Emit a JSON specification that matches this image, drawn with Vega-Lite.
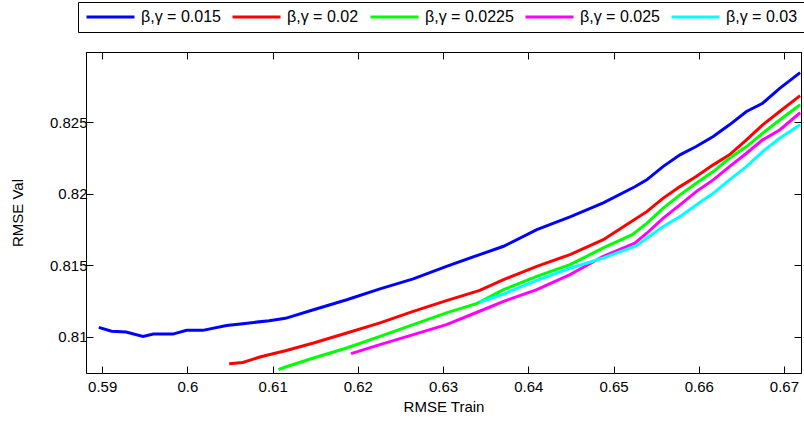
{
  "$schema": "https://vega.github.io/schema/vega-lite/v6.json",
  "width": 715,
  "height": 321,
  "autosize": {"type": "none"},
  "padding": {"left": 86, "top": 52, "right": 3, "bottom": 50},
  "config": {
    "view": {"stroke": "black", "strokeWidth": 1},
    "font": "Liberation Sans",
    "axis": {"grid": false, "domainColor": "black", "tickColor": "black", "labelColor": "black", "titleColor": "black", "labelFont": "Liberation Sans", "titleFont": "Liberation Sans", "titleFontWeight": "normal", "labelFontSize": 15, "titleFontSize": 15},
    "legend": {"labelFont": "Liberation Sans"}
  },
  "data": {"values": [
    {"s": "β,γ = 0.015", "x": 0.5896, "y": 0.81067},
    {"s": "β,γ = 0.015", "x": 0.5911, "y": 0.8104},
    {"s": "β,γ = 0.015", "x": 0.5928, "y": 0.81035},
    {"s": "β,γ = 0.015", "x": 0.5948, "y": 0.81004},
    {"s": "β,γ = 0.015", "x": 0.596, "y": 0.8102},
    {"s": "β,γ = 0.015", "x": 0.5983, "y": 0.8102},
    {"s": "β,γ = 0.015", "x": 0.5999, "y": 0.81046},
    {"s": "β,γ = 0.015", "x": 0.6018, "y": 0.81046},
    {"s": "β,γ = 0.015", "x": 0.6046, "y": 0.8108},
    {"s": "β,γ = 0.015", "x": 0.6065, "y": 0.81093},
    {"s": "β,γ = 0.015", "x": 0.6096, "y": 0.81114},
    {"s": "β,γ = 0.015", "x": 0.6115, "y": 0.8113},
    {"s": "β,γ = 0.015", "x": 0.6148, "y": 0.8119},
    {"s": "β,γ = 0.015", "x": 0.6187, "y": 0.8126},
    {"s": "β,γ = 0.015", "x": 0.6226, "y": 0.81336},
    {"s": "β,γ = 0.015", "x": 0.6265, "y": 0.81406},
    {"s": "β,γ = 0.015", "x": 0.6304, "y": 0.81494},
    {"s": "β,γ = 0.015", "x": 0.6343, "y": 0.81576},
    {"s": "β,γ = 0.015", "x": 0.6371, "y": 0.81634},
    {"s": "β,γ = 0.015", "x": 0.641, "y": 0.8175},
    {"s": "β,γ = 0.015", "x": 0.6449, "y": 0.81839},
    {"s": "β,γ = 0.015", "x": 0.6488, "y": 0.81937},
    {"s": "β,γ = 0.015", "x": 0.6525, "y": 0.8205},
    {"s": "β,γ = 0.015", "x": 0.6539, "y": 0.82098},
    {"s": "β,γ = 0.015", "x": 0.6558, "y": 0.82191},
    {"s": "β,γ = 0.015", "x": 0.6578, "y": 0.82273},
    {"s": "β,γ = 0.015", "x": 0.6597, "y": 0.82331},
    {"s": "β,γ = 0.015", "x": 0.6617, "y": 0.82401},
    {"s": "β,γ = 0.015", "x": 0.6636, "y": 0.82483},
    {"s": "β,γ = 0.015", "x": 0.6656, "y": 0.82576},
    {"s": "β,γ = 0.015", "x": 0.6675, "y": 0.82634},
    {"s": "β,γ = 0.015", "x": 0.6695, "y": 0.82738},
    {"s": "β,γ = 0.015", "x": 0.6719, "y": 0.82848},
    {"s": "β,γ = 0.02", "x": 0.6049, "y": 0.80813},
    {"s": "β,γ = 0.02", "x": 0.6065, "y": 0.80822},
    {"s": "β,γ = 0.02", "x": 0.6085, "y": 0.8086},
    {"s": "β,γ = 0.02", "x": 0.6104, "y": 0.80888},
    {"s": "β,γ = 0.02", "x": 0.6115, "y": 0.80904},
    {"s": "β,γ = 0.02", "x": 0.6148, "y": 0.80958},
    {"s": "β,γ = 0.02", "x": 0.6187, "y": 0.81028},
    {"s": "β,γ = 0.02", "x": 0.6226, "y": 0.81098},
    {"s": "β,γ = 0.02", "x": 0.6265, "y": 0.81179},
    {"s": "β,γ = 0.02", "x": 0.6304, "y": 0.81254},
    {"s": "β,γ = 0.02", "x": 0.6343, "y": 0.81325},
    {"s": "β,γ = 0.02", "x": 0.6371, "y": 0.81401},
    {"s": "β,γ = 0.02", "x": 0.641, "y": 0.81494},
    {"s": "β,γ = 0.02", "x": 0.6449, "y": 0.81576},
    {"s": "β,γ = 0.02", "x": 0.6488, "y": 0.8168},
    {"s": "β,γ = 0.02", "x": 0.6522, "y": 0.8181},
    {"s": "β,γ = 0.02", "x": 0.6539, "y": 0.81876},
    {"s": "β,γ = 0.02", "x": 0.6558, "y": 0.81969},
    {"s": "β,γ = 0.02", "x": 0.6578, "y": 0.82051},
    {"s": "β,γ = 0.02", "x": 0.6597, "y": 0.82121},
    {"s": "β,γ = 0.02", "x": 0.6617, "y": 0.82203},
    {"s": "β,γ = 0.02", "x": 0.6636, "y": 0.82273},
    {"s": "β,γ = 0.02", "x": 0.6656, "y": 0.82378},
    {"s": "β,γ = 0.02", "x": 0.6675, "y": 0.82483},
    {"s": "β,γ = 0.02", "x": 0.6695, "y": 0.82576},
    {"s": "β,γ = 0.02", "x": 0.6719, "y": 0.82687},
    {"s": "β,γ = 0.0225", "x": 0.6107, "y": 0.80771},
    {"s": "β,γ = 0.0225", "x": 0.6115, "y": 0.8079},
    {"s": "β,γ = 0.0225", "x": 0.6148, "y": 0.80853},
    {"s": "β,γ = 0.0225", "x": 0.6187, "y": 0.80923},
    {"s": "β,γ = 0.0225", "x": 0.6226, "y": 0.81004},
    {"s": "β,γ = 0.0225", "x": 0.6265, "y": 0.81086},
    {"s": "β,γ = 0.0225", "x": 0.6304, "y": 0.81168},
    {"s": "β,γ = 0.0225", "x": 0.634, "y": 0.81235},
    {"s": "β,γ = 0.0225", "x": 0.6371, "y": 0.81331},
    {"s": "β,γ = 0.0225", "x": 0.641, "y": 0.81424},
    {"s": "β,γ = 0.0225", "x": 0.6449, "y": 0.81506},
    {"s": "β,γ = 0.0225", "x": 0.6488, "y": 0.81622},
    {"s": "β,γ = 0.0225", "x": 0.6522, "y": 0.81715},
    {"s": "β,γ = 0.0225", "x": 0.6539, "y": 0.81794},
    {"s": "β,γ = 0.0225", "x": 0.6558, "y": 0.81899},
    {"s": "β,γ = 0.0225", "x": 0.6578, "y": 0.81993},
    {"s": "β,γ = 0.0225", "x": 0.6597, "y": 0.82074},
    {"s": "β,γ = 0.0225", "x": 0.6617, "y": 0.82156},
    {"s": "β,γ = 0.0225", "x": 0.6636, "y": 0.82249},
    {"s": "β,γ = 0.0225", "x": 0.6656, "y": 0.82331},
    {"s": "β,γ = 0.0225", "x": 0.6675, "y": 0.82424},
    {"s": "β,γ = 0.0225", "x": 0.6695, "y": 0.82517},
    {"s": "β,γ = 0.0225", "x": 0.6719, "y": 0.82624},
    {"s": "β,γ = 0.025", "x": 0.6192, "y": 0.80883},
    {"s": "β,γ = 0.025", "x": 0.6226, "y": 0.80946},
    {"s": "β,γ = 0.025", "x": 0.6265, "y": 0.81016},
    {"s": "β,γ = 0.025", "x": 0.6304, "y": 0.81086},
    {"s": "β,γ = 0.025", "x": 0.6345, "y": 0.81185},
    {"s": "β,γ = 0.025", "x": 0.6371, "y": 0.81249},
    {"s": "β,γ = 0.025", "x": 0.641, "y": 0.81331},
    {"s": "β,γ = 0.025", "x": 0.6449, "y": 0.81436},
    {"s": "β,γ = 0.025", "x": 0.6488, "y": 0.81564},
    {"s": "β,γ = 0.025", "x": 0.6525, "y": 0.81655},
    {"s": "β,γ = 0.025", "x": 0.6539, "y": 0.81725},
    {"s": "β,γ = 0.025", "x": 0.6558, "y": 0.81829},
    {"s": "β,γ = 0.025", "x": 0.6578, "y": 0.81923},
    {"s": "β,γ = 0.025", "x": 0.6597, "y": 0.82016},
    {"s": "β,γ = 0.025", "x": 0.6617, "y": 0.82098},
    {"s": "β,γ = 0.025", "x": 0.6636, "y": 0.82191},
    {"s": "β,γ = 0.025", "x": 0.6656, "y": 0.82284},
    {"s": "β,γ = 0.025", "x": 0.6675, "y": 0.82378},
    {"s": "β,γ = 0.025", "x": 0.6695, "y": 0.82447},
    {"s": "β,γ = 0.025", "x": 0.6719, "y": 0.82568},
    {"s": "β,γ = 0.03", "x": 0.6343, "y": 0.81242},
    {"s": "β,γ = 0.03", "x": 0.6371, "y": 0.813},
    {"s": "β,γ = 0.03", "x": 0.641, "y": 0.81395},
    {"s": "β,γ = 0.03", "x": 0.6449, "y": 0.8148},
    {"s": "β,γ = 0.03", "x": 0.6488, "y": 0.81552},
    {"s": "β,γ = 0.03", "x": 0.6527, "y": 0.81638},
    {"s": "β,γ = 0.03", "x": 0.6539, "y": 0.8169},
    {"s": "β,γ = 0.03", "x": 0.6558, "y": 0.81771},
    {"s": "β,γ = 0.03", "x": 0.6578, "y": 0.81841},
    {"s": "β,γ = 0.03", "x": 0.6597, "y": 0.81923},
    {"s": "β,γ = 0.03", "x": 0.6617, "y": 0.82004},
    {"s": "β,γ = 0.03", "x": 0.6636, "y": 0.82098},
    {"s": "β,γ = 0.03", "x": 0.6656, "y": 0.82191},
    {"s": "β,γ = 0.03", "x": 0.6675, "y": 0.82296},
    {"s": "β,γ = 0.03", "x": 0.6695, "y": 0.82389},
    {"s": "β,γ = 0.03", "x": 0.6719, "y": 0.82484}
  ]},
  "layer": [
    {
      "mark": {"type": "line", "strokeWidth": 3, "clip": true},
      "encoding": {
        "x": {"field": "x", "type": "quantitative", "title": "RMSE Train",
          "scale": {"domain": [0.5881, 0.672], "nice": false, "zero": false},
          "axis": {"values": [0.59, 0.6, 0.61, 0.62, 0.63, 0.64, 0.65, 0.66, 0.67], "format": ".2~f", "tickSize": -7, "labelPadding": 13, "titlePadding": 5}},
        "y": {"field": "y", "type": "quantitative", "title": "RMSE Val",
          "scale": {"domain": [0.80748, 0.82992], "nice": false, "zero": false},
          "axis": {"values": [0.81, 0.815, 0.82, 0.825], "format": ".3~f", "tickSize": -7, "labelPadding": 6, "titlePadding": 24}},
        "color": {"field": "s", "type": "nominal",
          "scale": {"domain": ["β,γ = 0.015", "β,γ = 0.02", "β,γ = 0.0225", "β,γ = 0.025", "β,γ = 0.03"], "range": ["#0000ff", "#ff0000", "#00ff00", "#ff00ff", "#00ffff"]},
          "legend": {"title": null, "orient": "none", "legendX": -8, "legendY": -50, "direction": "horizontal", "columns": 5, "strokeColor": "black", "fillColor": "white", "padding": 7, "symbolType": "stroke", "symbolSize": 2304, "symbolStrokeWidth": 3, "clipHeight": 16, "labelFontSize": 16, "labelOffset": 5, "columnPadding": 10, "labelColor": "black", "labelLimit": 200}}
      }
    },
    {
      "mark": {"type": "point", "opacity": 0},
      "encoding": {
        "x": {"field": "x", "type": "quantitative", "scale": {"domain": [0.5881, 0.672], "nice": false, "zero": false},
          "axis": {"orient": "top", "title": null, "labels": false, "values": [0.59, 0.6, 0.61, 0.62, 0.63, 0.64, 0.65, 0.66, 0.67], "tickSize": -7}},
        "y": {"field": "y", "type": "quantitative", "scale": {"domain": [0.80748, 0.82992], "nice": false, "zero": false},
          "axis": {"orient": "right", "title": null, "labels": false, "values": [0.81, 0.815, 0.82, 0.825], "tickSize": -7}}
      }
    }
  ],
  "resolve": {"axis": {"x": "independent", "y": "independent"}}
}
